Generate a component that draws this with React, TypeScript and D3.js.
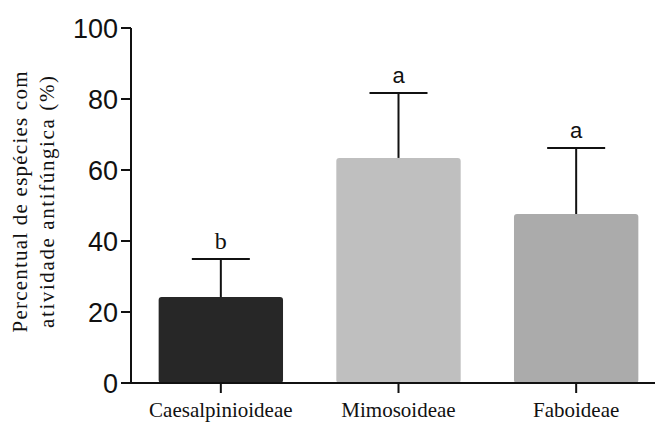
import * as d3 from "d3";

const categories = ["Caesalpinioideae", "Mimosoideae", "Faboideae"];
const means = [24.2, 63.4, 47.6];
const errors = [10.7, 18.3, 18.6];
const letters = ["b", "a", "a"];
const fills = ["#272727", "#bfbfbf", "#ababab"];
const yTicks = [0, 20, 40, 60, 80, 100];

const width = 655;
const height = 423;

const App = () => {
  const x = d3.scaleBand().domain(categories).range([132, 665]).paddingInner(0.3).paddingOuter(0.15);
  const y = d3.scaleLinear().domain([0, 100]).range([383, 28]);
  const axisX = 131;
  const serif = "'Liberation Serif', 'Times New Roman', serif";
  const sans = "'Liberation Sans', Arial, sans-serif";

  return (
    <svg
      width={width}
      height={height}
      style={{ position: "absolute", left: 0, top: 0, background: "#fff" }}
    >
      {/* bars */}
      {categories.map((c, i) => (
        <rect
          key={c}
          x={x(c)}
          y={y(means[i])}
          width={x.bandwidth()}
          height={y(0) - y(means[i])}
          rx={3}
          fill={fills[i]}
        />
      ))}

      {/* error bars + letters */}
      {categories.map((c, i) => {
        const cx = (x(c) as number) + x.bandwidth() / 2;
        const top = y(means[i] + errors[i]);
        return (
          <g key={c + "err"} stroke="#111" strokeWidth={2}>
            <line x1={cx} x2={cx} y1={y(means[i])} y2={top} />
            <line x1={cx - 29} x2={cx + 29} y1={top} y2={top} />
            <text
              x={cx}
              y={top - 10}
              textAnchor="middle"
              stroke="none"
              fill="#111"
              fontFamily={letters[i] === "b" ? serif : sans}
              fontSize={letters[i] === "b" ? 24 : 22}
            >
              {letters[i]}
            </text>
          </g>
        );
      })}

      {/* y axis */}
      <line x1={axisX} x2={axisX} y1={y(100)} y2={y(0)} stroke="#111" strokeWidth={2} />
      {yTicks.map((t) => (
        <g key={t}>
          <line x1={axisX - 10} x2={axisX} y1={y(t)} y2={y(t)} stroke="#111" strokeWidth={2} />
          <text
            x={axisX - 13}
            y={y(t)}
            dy="0.36em"
            textAnchor="end"
            fontFamily={sans}
            fontSize={27}
            fill="#111"
          >
            {t}
          </text>
        </g>
      ))}

      {/* x axis */}
      <line x1={axisX} x2={width} y1={y(0)} y2={y(0)} stroke="#111" strokeWidth={2} />
      {categories.map((c) => {
        const cx = (x(c) as number) + x.bandwidth() / 2;
        return (
          <g key={c + "tick"}>
            <line x1={cx} x2={cx} y1={y(0)} y2={y(0) + 10} stroke="#111" strokeWidth={2} />
            <text
              x={cx}
              y={417}
              textAnchor="middle"
              fontFamily={serif}
              fontSize={21}
              fill="#111"
            >
              {c}
            </text>
          </g>
        );
      })}

      {/* y title */}
      <g transform="translate(27,202) rotate(-90)">
        <text
          x={0}
          y={0}
          textAnchor="middle"
          fontFamily={serif}
          fontSize={21}
          fill="#111"
          textLength={261}
          lengthAdjust="spacing"
        >
          Percentual de espécies com
        </text>
        <text
          x={0}
          y={27}
          textAnchor="middle"
          fontFamily={serif}
          fontSize={21}
          fill="#111"
          textLength={252}
          lengthAdjust="spacing"
        >
          atividade antifúngica (%)
        </text>
      </g>
    </svg>
  );
};

export default App;
